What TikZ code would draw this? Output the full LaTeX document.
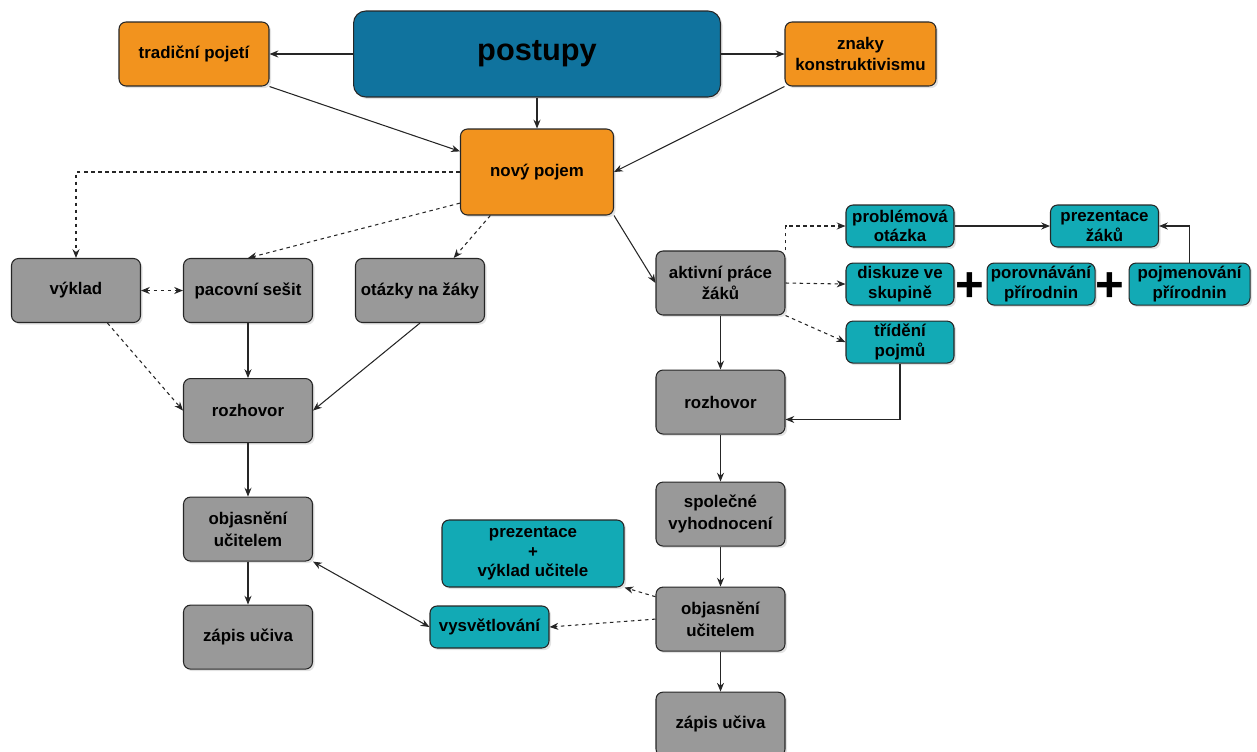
\documentclass[tikz,border=0pt]{standalone}
\usepackage{fontspec}
\setmainfont{Liberation Sans}
\usetikzlibrary{arrows.meta,positioning,shadows}
\definecolor{headblue}{HTML}{10739E}
\definecolor{keyorange}{HTML}{F2931E}
\definecolor{stepgrey}{HTML}{999999}
\definecolor{ideateal}{HTML}{12AAB5}
\definecolor{edge}{HTML}{262626}

\begin{document}
\begin{tikzpicture}[x=0.02cm, y=-0.02cm, >={Stealth[length=5pt,width=4pt]},
  font=\bfseries\fontsize{9.6}{12.3}\selectfont,
  basebox/.style={draw=edge, line width=0.6pt, rounded corners=4pt, align=center, inner sep=1pt,
    drop shadow={shadow xshift=1.2pt, shadow yshift=-1.2pt, opacity=0.22}},
  greybox/.style={basebox, fill=stepgrey, minimum width=2.58cm, minimum height=1.28cm},
  orangebox/.style={basebox, fill=keyorange, minimum width=3.02cm, minimum height=1.28cm},
  tealbox/.style={basebox, fill=ideateal, minimum width=2.16cm, minimum height=0.84cm,
    font=\bfseries\fontsize{9.6}{11}\selectfont},
  flow/.style={->, line width=0.6pt, edge},
  dflow/.style={flow, dash pattern=on 2pt off 2pt},
  plus/.style={inner sep=0pt, font=\bfseries\fontsize{28}{28}\selectfont}]
  \useasboundingbox (0,0) rectangle (1257,751);

  % top row
  \node[basebox, fill=headblue, rounded corners=7pt, minimum width=7.34cm, minimum height=1.72cm,
    font=\bfseries\fontsize{17.5}{20}\selectfont] (post) at (537,54) {postupy};
  \node[orangebox, minimum width=3cm] (trad) at (194,54) {tradiční pojetí};
  \node[orangebox] (znaky) at (860.5,54) {znaky\\konstruktivismu};
  \node[orangebox, minimum width=3.06cm, minimum height=1.72cm] (novy) at (537,172) {nový pojem};

  % left branch
  \node[greybox] (vyk) at (76,290.5) {výklad};
  \node[greybox] (pac) at (248,290.5) {pacovní sešit};
  \node[greybox] (otaz) at (420,290.5) {otázky na žáky};
  \node[greybox, below=1.1cm of pac] (rozL) {rozhovor};
  \node[greybox, below=1.07cm of rozL] (objL) {objasnění\\učitelem};
  \node[greybox, below=0.86cm of objL] (zapL) {zápis učiva};
  \node[tealbox, minimum width=3.64cm, minimum height=1.34cm] (prezv) at (533,553.5) {prezentace\\+\\výklad učitele};
  \node[tealbox, minimum width=2.38cm] (vysv) at (489.5,627) {vysvětlování};

  % right branch
  \node[greybox] (akt) at (720.5,283) {aktivní práce\\žáků};
  \node[greybox, below=1.08cm of akt] (rozR) {rozhovor};
  \node[greybox, below=0.94cm of rozR] (spol) {společné\\vyhodnocení};
  \node[greybox, below=0.8cm of spol] (objR) {objasnění\\učitelem};
  \node[greybox, below=0.8cm of objR] (zapR) {zápis učiva};

  % student activities
  \node[tealbox] (prob) at (900,226) {problémová\\otázka};
  \node[tealbox] (prezZ) at (1104.5,226) {prezentace\\žáků};
  \node[tealbox, below=0.3cm of prob] (disk) {diskuze ve\\skupině};
  \node[tealbox, right=0.64cm of disk] (porov) {porovnávání\\přírodnin};
  \node[tealbox, minimum width=2.42cm, right=0.66cm of porov] (pojm) {pojmenování\\přírodnin};
  \node[tealbox, below=0.3cm of disk] (trid) {třídění\\pojmů};
  \node[plus] (plusA) at (970,287) {+};
  \node[plus] (plusB) at (1110,287) {+};

  % connectors
  \draw[flow] (post.west) -- (trad.east);
  \draw[flow] (post.east) -- (znaky.west);
  \draw[flow] (post.south) -- (novy.north);
  \draw[flow] (trad.south east) -- (novy.165);
  \draw[flow] (znaky.south west) -- (novy.east);
  \draw[dflow] (novy.west) -| (vyk.north);
  \draw[dflow] (novy.202) -- (pac.north);
  \draw[dflow] (novy.223) -- (otaz.44);
  \draw[flow] (novy.south east) -- (akt.west);
  \draw[dflow, <->] (vyk.east) -- (pac.west);
  \draw[dflow] (vyk.314) -- (rozL.west);
  \draw[flow] (pac.south) -- (rozL.north);
  \draw[flow] (otaz.south) -- (rozL.east);
  \draw[flow] (rozL.south) -- (objL.north);
  \draw[flow] (objL.south) -- (zapL.north);
  \draw[flow, <->] (objL.south east) -- (vysv.west);

  \draw[flow] (akt.south) -- (rozR.north);
  \draw[flow] (rozR.south) -- (spol.north);
  \draw[flow] (spol.south) -- (objR.north);
  \draw[flow] (objR.south) -- (zapR.north);
  \draw[dflow] (objR.161) -- (prezv.south east);
  \draw[dflow] (objR.west) -- (vysv.east);
  \draw[dflow] (akt.north east) |- (prob.west);
  \draw[dflow] (akt.east) -- (disk.west);
  \draw[dflow] (akt.south east) -- (trid.west);
  \draw[flow] (prob.east) -- (prezZ.west);
  \draw[flow] (pojm.north) |- (prezZ.east);
  \draw[flow] (trid.south) |- (rozR.345);
\end{tikzpicture}
\end{document}
